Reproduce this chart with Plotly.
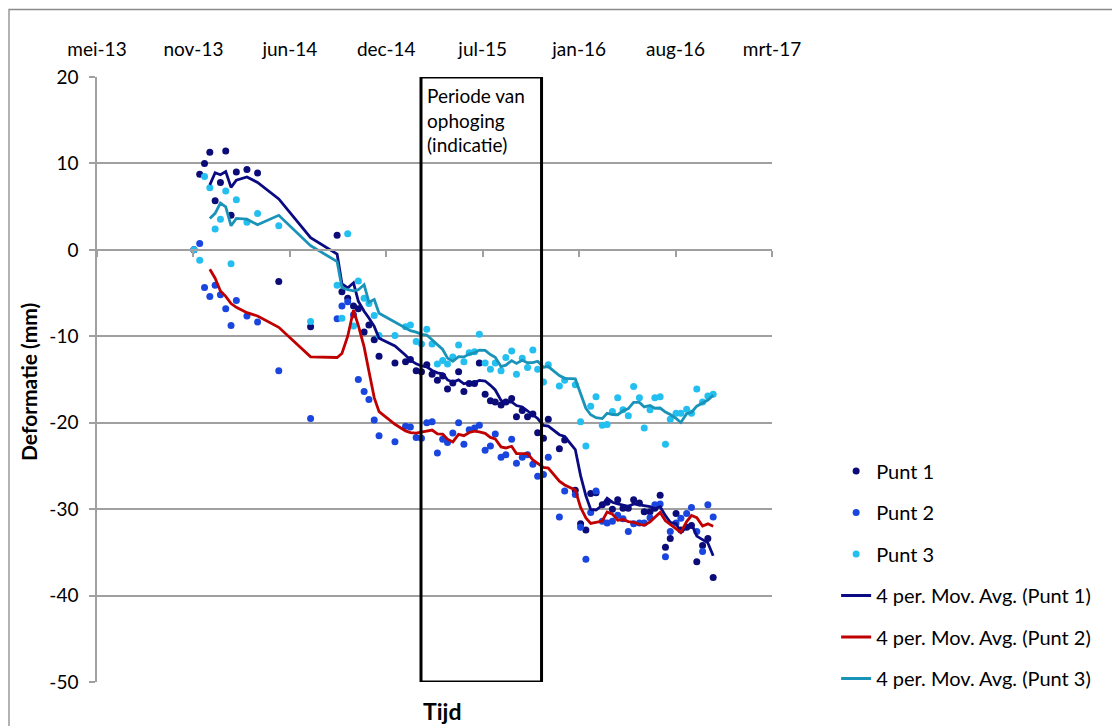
import pandas as pd
import plotly.graph_objects as go

# ---------------- data ----------------
dates = [
    "2013-11-18", "2013-11-30", "2013-12-10", "2013-12-21", "2014-01-01", "2014-01-12",
    "2014-01-23", "2014-02-03", "2014-02-14", "2014-03-08", "2014-03-30", "2014-05-13",
    "2014-07-18", "2014-09-11", "2014-09-21", "2014-10-03", "2014-10-15", "2014-10-25",
    "2014-11-06", "2014-11-16", "2014-11-27", "2014-12-07", "2015-01-09", "2015-01-31",
    "2015-02-10", "2015-02-22", "2015-03-05", "2015-03-16", "2015-03-27", "2015-04-07",
    "2015-04-18", "2015-04-28", "2015-05-09", "2015-05-21", "2015-06-01", "2015-06-12",
    "2015-06-23", "2015-07-03", "2015-07-15", "2015-07-26", "2015-08-05", "2015-08-17",
    "2015-08-27", "2015-09-08", "2015-09-18", "2015-09-30", "2015-10-11", "2015-10-22",
    "2015-11-01", "2015-11-13", "2015-11-23", "2015-12-16", "2015-12-27", "2016-01-18",
    "2016-01-29", "2016-02-09", "2016-02-19", "2016-03-01", "2016-03-14", "2016-03-24",
    "2016-04-04", "2016-04-15", "2016-04-26", "2016-05-07", "2016-05-18", "2016-05-30",
    "2016-06-09", "2016-06-21", "2016-07-01", "2016-07-12", "2016-07-23", "2016-08-02",
    "2016-08-14", "2016-08-24", "2016-09-05", "2016-09-15", "2016-09-26", "2016-10-08",
    "2016-10-19", "2016-10-30",
]

punt1 = [
    0, 8.75, 10.0, 11.3, 5.67, 7.8, 11.45, 4.0, 9.0, 9.3, 8.9, -3.65,
    -8.9, 1.7, -4.85, -5.6, -6.5, -6.8, -9.5, -8.7, -10.4, -12.3, -13.1, -12.95,
    -12.7, -14.0, -14.1, -13.3, -14.4, -15.1, -14.6, -16.1, -15.4, -14.1, -16.4, -15.45,
    -15.45, -13.1, -16.7, -17.45, -17.6, -17.95, -17.6, -17.2, -19.3, -18.6, -19.3, -19.0,
    -21.15, -21.8, -19.6, -23.0, -22.0, -27.8, -31.7, -32.4, -28.2, -28.1, -29.5, -29.2,
    -30.0, -28.9, -29.9, -29.9, -28.9, -29.3, -30.3, -30.3, -29.9, -28.4, -34.4, -33.4,
    -30.5, -32.4, -32.1, -31.9, -36.1, -34.2, -33.4, -37.9,
]

punt2 = [
    0, 0.74, -4.35, -5.4, -4.1, -5.2, -6.8, -8.75, -5.85, -7.65, -8.35, -14.0,
    -19.5, -7.97, -6.5, -6.0, -7.5, -15.0, -16.4, -17.3, -19.7, -21.5, -22.2, -20.4,
    -20.5, -21.7, -21.8, -20.0, -19.9, -23.5, -21.9, -22.3, -21.2, -20.0, -22.5, -20.8,
    -20.6, -20.3, -23.2, -22.7, -21.3, -24.0, -23.7, -21.9, -24.7, -24.0, -23.7, -24.8,
    -26.2, -26.0, -24.0, -30.9, -27.9, -28.3, -32.1, -35.8, -30.4, -27.9, -31.4, -31.6,
    -31.4, -30.7, -31.1, -32.6, -31.7, -31.6, -31.6, -31.0, -29.5, -29.4, -35.5, -32.6,
    -31.6, -31.05, -30.5, -29.8, -32.6, -34.9, -29.5, -30.9,
]

punt3 = [
    0, -1.2, 8.5, 7.2, 2.4, 3.55, 6.8, -1.6, 5.8, 3.2, 4.2, 2.8,
    -8.3, -4.1, -7.9, 1.85, -8.8, -3.6, -5.6, -6.2, -7.6, -9.9, -9.9, -8.9,
    -8.7, -10.6, -10.9, -9.2, -10.9, -13.2, -12.8, -13.2, -12.4, -11.0, -12.95, -11.9,
    -11.8, -9.75, -13.1, -13.8, -13.1, -14.0, -12.45, -11.7, -14.4, -12.55, -13.6, -11.6,
    -13.8, -15.3, -13.3, -15.75, -15.1, -15.6, -19.9, -22.7, -18.1, -17.0, -20.3, -20.2,
    -18.7, -17.1, -18.5, -19.2, -15.8, -17.1, -20.6, -18.5, -17.1, -17.0, -22.5, -19.6,
    -18.9, -18.9, -18.45, -18.9, -16.1, -17.6, -16.9, -16.7,
]

tick_dates = ["2013-05-01", "2013-11-17", "2014-06-05", "2014-12-22",
              "2015-07-10", "2016-01-26", "2016-08-13", "2017-03-01"]
tick_labels = ["mei-13", "nov-13", "jun-14", "dec-14", "jul-15", "jan-16", "aug-16", "mrt-17"]

y_ticks = [20, 10, 0, -10, -20, -30, -40, -50]
y_tick_labels = ["20", "10", "0", "-10", "-20", "-30", "-40", "-50"]

period_start = "2015-03-04"
period_end = "2015-11-09"
period_text = "Periode van<br>ophoging<br>(indicatie)"

series_names = ["Punt 1", "Punt 2", "Punt 3"]
ma_names = ["4 per. Mov. Avg. (Punt 1)", "4 per. Mov. Avg. (Punt 2)", "4 per. Mov. Avg. (Punt 3)"]

# ---------------- styling ----------------
FONT = "Lato, Carlito, Calibri, sans-serif"
GRID = "#a0a0a0"
dot_colors = ["#0c0c78", "#1a46e0", "#22bff0"]
ma_colors = ["#0a0a82", "#c00000", "#1a93b8"]

fig = go.Figure()
all_vals = [punt1, punt2, punt3]
x = pd.to_datetime(pd.Series(dates))

for i, vals in enumerate(all_vals):
    fig.add_trace(go.Scatter(
        x=x, y=vals, mode="markers", name=series_names[i],
        legendgroup=f"g{i}",
        marker=dict(color=dot_colors[i], size=7, line=dict(width=0)),
    ))

for i, vals in enumerate(all_vals):
    ma = pd.Series(vals, dtype=float).rolling(4).mean()
    fig.add_trace(go.Scatter(
        x=x, y=ma, mode="lines", name=ma_names[i],
        legendgroup=f"m{i}",
        line=dict(color=ma_colors[i], width=2.8),
    ))

# dummy trace to activate the overlaid axis drawn at y = 0
fig.add_trace(go.Scatter(x=[x.iloc[0]], y=[None], xaxis="x2", showlegend=False,
                         hoverinfo="skip", mode="markers"))

x_range = [tick_dates[0], tick_dates[-1]]

fig.update_layout(
    width=1112, height=726,
    margin=dict(l=97, r=340, t=77, b=44),
    paper_bgcolor="white", plot_bgcolor="white",
    font=dict(family=FONT, size=19, color="#000000"),
    showlegend=True,
    legend=dict(
        x=1.095, xanchor="left", y=0.381, yanchor="top",
        font=dict(family=FONT, size=20, color="#000000"),
        tracegroupgap=12.5, bgcolor="rgba(0,0,0,0)",
    ),
    xaxis=dict(
        type="date", range=x_range, side="top",
        tickmode="array", tickvals=tick_dates, ticktext=tick_labels,
        showgrid=False, zeroline=False, showline=False, ticks="",
        ticklabelstandoff=16,
        tickfont=dict(family=FONT, size=19),
    ),
    xaxis2=dict(
        type="date", range=x_range, overlaying="x", anchor="free",
        position=50 / 70, side="bottom",
        tickmode="array", tickvals=tick_dates, showticklabels=False,
        ticks="outside", ticklen=6, tickwidth=1.5, tickcolor=GRID,
        showline=True, linecolor=GRID, linewidth=1.5,
        showgrid=False, zeroline=False,
    ),
    yaxis=dict(
        range=[-50, 20], tickmode="array", tickvals=y_ticks, ticktext=y_tick_labels,
        showgrid=True, gridcolor=GRID, gridwidth=1.5,
        zeroline=False, showline=True, linecolor=GRID, linewidth=1.5,
        ticks="outside", ticklen=6, tickwidth=1.5, tickcolor=GRID,
        ticklabelstandoff=7,
        tickfont=dict(family=FONT, size=19),
    ),
)

# indication box of the raising period
fig.add_shape(type="rect", xref="x", yref="y",
              x0=period_start, x1=period_end, y0=-50, y1=20,
              line=dict(color="black", width=3), fillcolor="rgba(0,0,0,0)", layer="above")
fig.add_annotation(xref="x", yref="y", x=period_start, y=20, xanchor="left", yanchor="top",
                   xshift=4, yshift=-5, text=period_text, showarrow=False, align="left",
                   font=dict(family=FONT, size=19, color="black"))

# chart-area border
fig.add_shape(type="rect", xref="paper", yref="paper",
              x0=(9 - 97) / 675, x1=1.6, y0=-0.3, y1=(682 - 9.5) / 605,
              line=dict(color="#8a8a8a", width=1.3), fillcolor="rgba(0,0,0,0)", layer="below")

# axis titles
fig.add_annotation(xref="paper", yref="paper", x=(28 - 97) / 675, y=(682 - 382) / 605,
                   text="<b>Deformatie (mm)</b>", textangle=-90, showarrow=False,
                   xanchor="center", yanchor="middle",
                   font=dict(family=FONT, size=21, color="black"))
fig.add_annotation(xref="paper", yref="paper", x=(442 - 97) / 675, y=(682 - 711) / 605,
                   text="<b>Tijd</b>", showarrow=False, xanchor="center", yanchor="middle",
                   font=dict(family=FONT, size=23, color="black"))

fig.write_html("out.html")
